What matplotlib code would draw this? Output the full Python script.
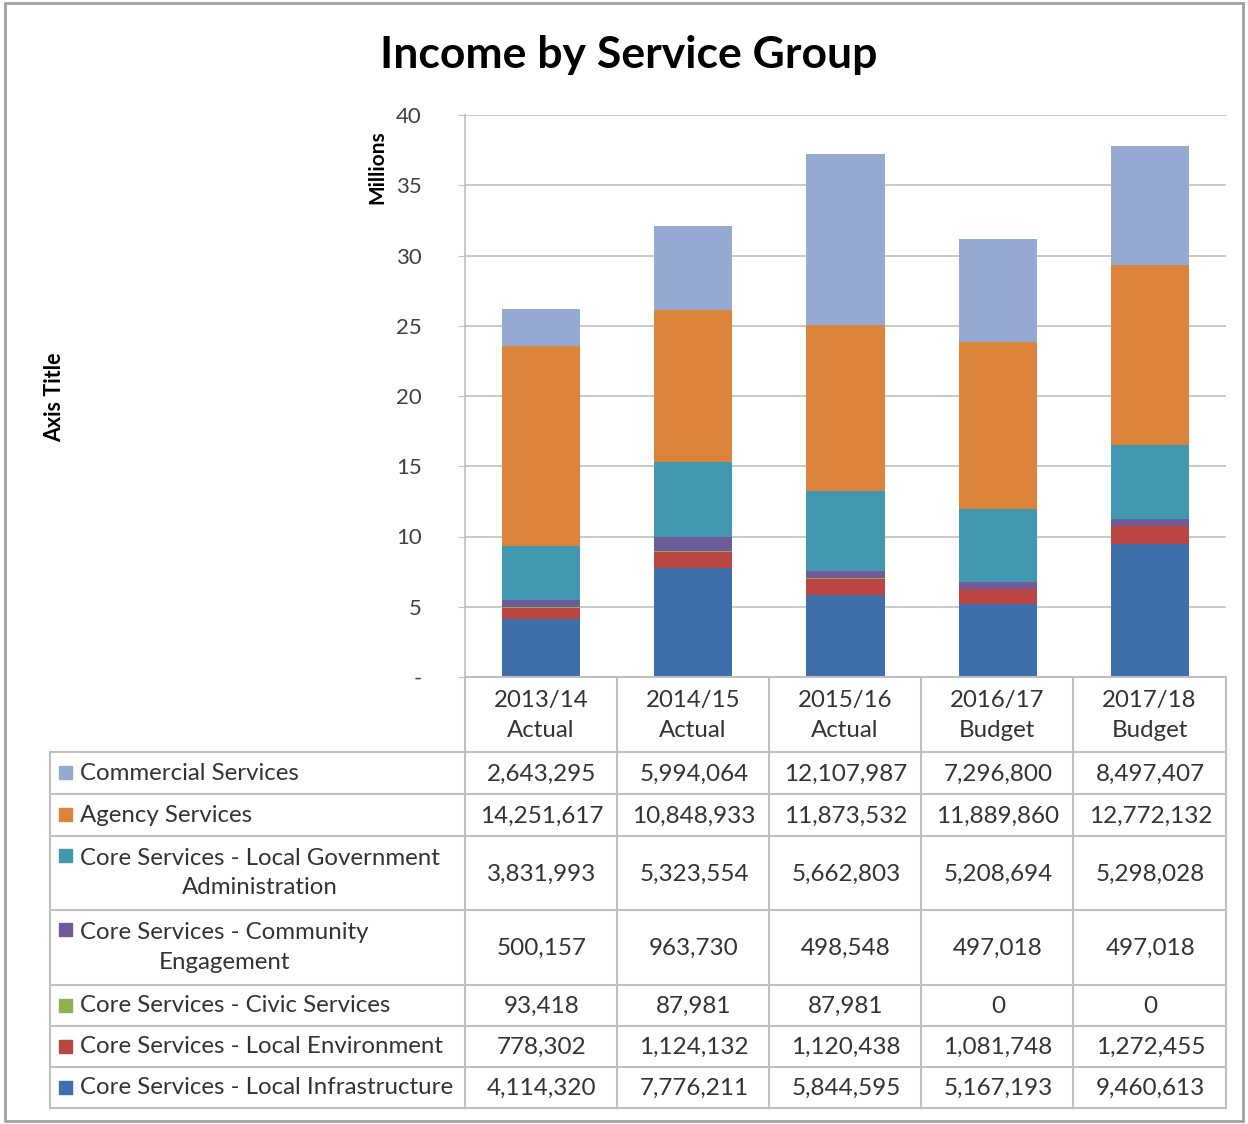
import numpy as np
import matplotlib
matplotlib.use('Agg')
import matplotlib.pyplot as plt
from matplotlib.patches import Rectangle

plt.rcParams['font.family'] = ['Lato', 'DejaVu Sans']

years = ['2013/14\nActual', '2014/15\nActual', '2015/16\nActual', '2016/17\nBudget', '2017/18\nBudget']

# series listed top of table first
series = ['Commercial Services',
          'Agency Services',
          'Core Services - Local Government\nAdministration',
          'Core Services - Community\nEngagement',
          'Core Services - Civic Services',
          'Core Services - Local Environment',
          'Core Services - Local Infrastructure']

commercial = [2643295, 5994064, 12107987, 7296800, 8497407]
agency = [14251617, 10848933, 11873532, 11889860, 12772132]
local_gov = [3831993, 5323554, 5662803, 5208694, 5298028]
community = [500157, 963730, 498548, 497018, 497018]
civic = [93418, 87981, 87981, 0, 0]
environment = [778302, 1124132, 1120438, 1081748, 1272455]
infrastructure = [4114320, 7776211, 5844595, 5167193, 9460613]

values = [commercial, agency, local_gov, community, civic, environment, infrastructure]
colors = ['#95A9D2', '#DD843C', '#4198AF', '#6F5A9A', '#8FB04D', '#BB4540', '#3F6FAA']

W, H = 1248, 1124
fig = plt.figure(figsize=(W / 100, H / 100), dpi=100)

# pixel layout of plot and table
px_left, px_right, px_top, px_bottom = 465, 1226, 115, 677
col_edges = [465, 617, 769, 921, 1073, 1226]
row_edges = [752, 794, 836, 910, 985, 1026, 1067, 1108]
table_left = 50
line_col = '#BFBFBF'
text_col = '#333333'
fs = 17.3

ax = fig.add_axes([px_left / W, 1 - px_bottom / H, (px_right - px_left) / W, (px_bottom - px_top) / H])
x = np.arange(len(years))
bottom = np.zeros(len(years))
for name, vals, c in reversed(list(zip(series, values, colors))):
    v = np.array(vals) / 1e6
    ax.bar(x, v, 0.513, bottom=bottom, color=c, zorder=3)
    bottom += v

ax.set_xlim(-0.5, len(years) - 0.5)
ax.set_ylim(0, 40)
ax.set_yticks(np.arange(0, 41, 5))
ax.set_yticklabels(['-'] + [str(t) for t in range(5, 41, 5)])
ax.tick_params(axis='y', labelsize=16, colors=line_col, labelcolor='#404040', length=5, pad=26)
ax.set_xticks([])
ax.grid(axis='y', color=line_col, linewidth=1.2, zorder=0)
for s in ['top', 'right', 'bottom']:
    ax.spines[s].set_visible(False)
ax.spines['left'].set_color(line_col)
ax.spines['left'].set_linewidth(1.2)

# overlay in pixel coordinates for the data table and labels
ov = fig.add_axes([0, 0, 1, 1], zorder=5)
ov.set_xlim(0, W)
ov.set_ylim(H, 0)
ov.axis('off')
ov.patch.set_alpha(0)

ov.add_patch(Rectangle((5, 3), W - 10, H - 6, fill=False, edgecolor='#A0A0A0', linewidth=2))

ov.text(629, 55, 'Income by Service Group', ha='center', va='center', fontsize=32, fontweight='bold', color='black')
ov.text(377, 167, 'Millions', ha='center', va='center', rotation=90, fontsize=15, fontweight='bold')
ov.text(55, 397, 'Axis Title', ha='center', va='center', rotation=90, fontsize=15.5, fontweight='bold')

# table grid
ov.plot([px_left, px_right], [px_bottom, px_bottom], color=line_col, lw=1.5)
for xe in col_edges:
    ov.plot([xe, xe], [px_bottom, row_edges[-1]], color=line_col, lw=1.5)
ov.plot([table_left, table_left], [row_edges[0], row_edges[-1]], color=line_col, lw=1.5)
for ye in row_edges:
    ov.plot([table_left, px_right], [ye, ye], color=line_col, lw=1.5)

# header
for i, yr in enumerate(years):
    xc = (col_edges[i] + col_edges[i + 1]) / 2
    ov.text(xc, (px_bottom + row_edges[0]) / 2 + 1, yr, ha='center', va='center',
            fontsize=fs, color=text_col, linespacing=1.55)

# rows
for r, (name, vals, c) in enumerate(zip(series, values, colors)):
    y0, y1 = row_edges[r], row_edges[r + 1]
    yc = (y0 + y1) / 2
    two_line = '\n' in name
    mark_y = y0 + 20 if two_line else yc
    ov.add_patch(Rectangle((59, mark_y - 7), 13, 13, color=c))
    ov.text(80, yc, name, ha='left', va='center', multialignment='center',
            fontsize=fs, color=text_col, linespacing=1.5)
    for i, v in enumerate(vals):
        xc = (col_edges[i] + col_edges[i + 1]) / 2
        ov.text(xc + 1, yc + 1, f'{v:,}', ha='center', va='center', fontsize=17.5, color=text_col)

fig.savefig('out.png', dpi=100, facecolor='white')
